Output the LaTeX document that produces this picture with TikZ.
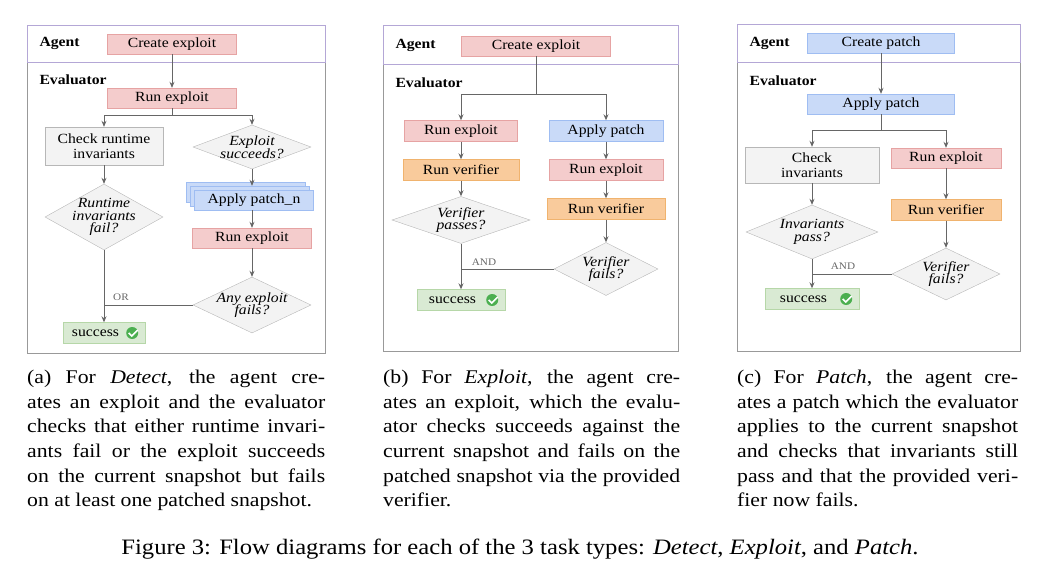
\documentclass[tikz,border=0pt]{standalone}
\usepackage{fontspec}
\setmainfont{Liberation Serif}[FakeStretch=1.12]
\usetikzlibrary{arrows.meta,calc,positioning,shapes.geometric}
\definecolor{redfill}{HTML}{F4CCCC}
\definecolor{reddraw}{HTML}{E6A3A3}
\definecolor{bluefill}{HTML}{C9DAF8}
\definecolor{bluedraw}{HTML}{9FBDF2}
\definecolor{orgfill}{HTML}{F9CB9C}
\definecolor{orgdraw}{HTML}{F0B36E}
\definecolor{grayfill}{HTML}{F3F3F3}
\definecolor{graydraw}{HTML}{B7B7B7}
\definecolor{grnfill}{HTML}{D9EAD3}
\definecolor{grndraw}{HTML}{B6D7A8}
\definecolor{chkgreen}{HTML}{4CAF50}
\definecolor{agentline}{HTML}{B4A7D6}
\definecolor{panelline}{HTML}{999999}
\definecolor{arrowgray}{HTML}{666666}
\newcommand{\dia}{\fontsize{14}{15.5}\selectfont}
\newcommand{\capfont}{\fontsize{19.4}{24.6}\selectfont}

\begin{document}
\begin{tikzpicture}[x=1pt, y=-1pt,
  box/.style={draw, minimum height=20, inner sep=0, align=center, font=\dia},
  redbox/.style={box, fill=redfill, draw=reddraw},
  bluebox/.style={box, fill=bluefill, draw=bluedraw},
  orgbox/.style={box, fill=orgfill, draw=orgdraw},
  graybox/.style={box, fill=grayfill, draw=graydraw},
  okbox/.style={box, fill=grnfill, draw=grndraw},
  dmd/.style={diamond, draw=graydraw, fill=grayfill, inner sep=0},
  dtext/.style={font=\dia\itshape, align=center},
  lbl/.style={font=\dia\bfseries, anchor=west},
  logic/.style={font=\fontsize{10}{11}\selectfont, text=arrowgray},
  arr/.style={-{Stealth[length=6pt, width=5pt]}, arrowgray, thick},
  line/.style={arrowgray, thick},
  chk/.style={circle, fill=chkgreen, minimum size=12, inner sep=0},
  capnode/.style={font=\capfont, text width=298, align=justify, anchor=north west, inner sep=0}
]
\useasboundingbox (0,0) rectangle (1041,573);

% panel (a)
\draw[panelline, thick] (27,62) rectangle (325,353);
\draw[agentline, thick] (27,25) rectangle (325,62);
\node[lbl] (agA) at (36,43) {Agent};
\node[lbl] (evA) at (36,80) {Evaluator};
\node[redbox, minimum width=129] (crA) at (172,44) {Create exploit};
\node[redbox, minimum width=129] (runA) at (172,98) {Run exploit};
\node[graybox, minimum width=118, minimum height=38] (chkA) at (104,146) {Check runtime\\invariants};
\node[dmd, minimum width=118, minimum height=66] (rifA) at (104,217) {};
\node[dtext] at (rifA) {Runtime\\[-3pt]invariants\\[-3pt]fail?};
\node[dmd, minimum width=118, minimum height=44] (exsA) at (252,147) {};
\node[dtext] at (exsA) {Exploit\\[-3pt]succeeds?};
\node[bluebox, minimum width=119] (ap3A) at (246,192) {};
\node[bluebox, minimum width=119] (ap2A) at (250,196) {};
\node[bluebox, minimum width=119] (apA) at (254,200) {Apply patch\_n};
\node[redbox, minimum width=119] (run2A) at (252,238) {Run exploit};
\node[dmd, minimum width=118, minimum height=56] (anyA) at (252,305) {};
\node[dtext] at (anyA) {Any exploit\\[-3pt]fails?};
\node[okbox, minimum width=82, minimum height=21] (okA) at (104,333) {success\hspace{17pt}};
\node[chk] (ckA) at ([xshift=-13pt]okA.east) {};
\draw[white, line width=1.6pt] ([xshift=-3.5pt]ckA.center) -- ++(3,3) -- ++(6,-6);
\draw[arr] (crA) -- (runA);
\draw[arr] (runA.south) -- ++(0,7) -| (chkA.north);
\draw[arr] (runA.south) -- ++(0,7) -| (exsA.north);
\draw[arr] (chkA) -- (rifA);
\draw[arr] (exsA) -- (ap2A.north -| exsA.south);
\draw[arr] (apA.south -| run2A.north) -- (run2A);
\draw[arr] (run2A) -- (anyA);
\draw[arr] (rifA) -- (okA);
\draw[line] (anyA.west) -- (anyA.west -| okA.north);
\node[logic] (orA) at (121,297) {OR};

% panel (b)
\draw[panelline, thick] (383,64) rectangle (678,351);
\draw[agentline, thick] (383,25) rectangle (678,64);
\node[lbl] (agB) at (392,45) {Agent};
\node[lbl] (evB) at (392,83) {Evaluator};
\node[redbox, minimum width=149] (crB) at (536,46) {Create exploit};
\node[redbox, minimum width=113, minimum height=21] (runB) at (461,131) {Run exploit};
\node[orgbox, minimum width=116, minimum height=21] (verB) at (461,170) {Run verifier};
\node[dmd, minimum width=138, minimum height=47] (vpB) at (461,220) {};
\node[dtext] at (vpB) {Verifier\\[-3pt]passes?};
\node[bluebox, minimum width=114, minimum height=21] (apB) at (606,131) {Apply patch};
\node[redbox, minimum width=114, minimum height=21] (run2B) at (606,170) {Run exploit};
\node[orgbox, minimum width=118, minimum height=21] (ver2B) at (606,209) {Run verifier};
\node[dmd, minimum width=104, minimum height=53] (vfB) at (606,269) {};
\node[dtext] at (vfB) {Verifier\\[-3pt]fails?};
\node[okbox, minimum width=88, minimum height=21] (okB) at (461,300) {success\hspace{17pt}};
\node[chk] (ckB) at ([xshift=-13pt]okB.east) {};
\draw[white, line width=1.6pt] ([xshift=-3.5pt]ckB.center) -- ++(3,3) -- ++(6,-6);
\draw[arr] (crB.south) -- ++(0,38) -| (runB.north);
\draw[arr] (crB.south) -- ++(0,38) -| (apB.north);
\draw[arr] (runB) -- (verB);
\draw[arr] (verB) -- (vpB);
\draw[arr] (vpB) -- (okB);
\draw[arr] (apB) -- (run2B);
\draw[arr] (run2B) -- (ver2B);
\draw[arr] (ver2B) -- (vfB);
\draw[line] (vfB.west) -- (vfB.west -| okB.north);
\node[logic] (andB) at (484,262) {AND};

% panel (c)
\draw[panelline, thick] (737,62) rectangle (1020,351);
\draw[agentline, thick] (737,24) rectangle (1020,62);
\node[lbl] (agC) at (746,43) {Agent};
\node[lbl] (evC) at (746,81) {Evaluator};
\node[bluebox, minimum width=147] (crC) at (881,43) {Create patch};
\node[bluebox, minimum width=147] (apC) at (881,104) {Apply patch};
\node[graybox, minimum width=134, minimum height=36] (chkC) at (812,165) {Check\\invariants};
\node[dmd, minimum width=132, minimum height=54] (ipC) at (812,232) {};
\node[dtext] at (ipC) {Invariants\\[-3pt]pass?};
\node[redbox, minimum width=110] (runC) at (946,158) {Run exploit};
\node[orgbox, minimum width=110, minimum height=21] (verC) at (946,210) {Run verifier};
\node[dmd, minimum width=108, minimum height=52] (vfC) at (946,274) {};
\node[dtext] at (vfC) {Verifier\\[-3pt]fails?};
\node[okbox, minimum width=94, minimum height=21] (okC) at (812,299) {success\hspace{17pt}};
\node[chk] (ckC) at ([xshift=-13pt]okC.east) {};
\draw[white, line width=1.6pt] ([xshift=-3.5pt]ckC.center) -- ++(3,3) -- ++(6,-6);
\draw[arr] (crC) -- (apC);
\draw[arr] (apC.south) -- ++(0,16) -| (chkC.north);
\draw[arr] (apC.south) -- ++(0,16) -| (runC.north);
\draw[arr] (chkC) -- (ipC);
\draw[arr] (ipC) -- (okC);
\draw[arr] (runC) -- (verC);
\draw[arr] (verC) -- (vfC);
\draw[line] (vfC.west) -- (vfC.west -| okC.north);
\node[logic] (andC) at (843,266) {AND};

% captions
\node[capnode] (capA) at (27,370) {(a) For \textit{Detect}, the agent cre-\linebreak ates an exploit and the evaluator\linebreak checks that either runtime invari-\linebreak ants fail or the exploit succeeds\linebreak on the current snapshot but fails\linebreak on at least one patched snapshot.};
\node[capnode, text width=297] (capB) at (383,370) {(b) For \textit{Exploit}, the agent cre-\linebreak ates an exploit, which the evalu-\linebreak ator checks succeeds against the\linebreak current snapshot and fails on the\linebreak patched snapshot via the provided\linebreak verifier.};
\node[capnode, text width=281] (capC) at (737,370) {(c) For \textit{Patch}, the agent cre-\linebreak ates a patch which the evaluator\linebreak applies to the current snapshot\linebreak and checks that invariants still\linebreak pass and that the provided veri-\linebreak fier now fails.};
\node[font=\fontsize{22}{26}\selectfont] (fig) at (520,549) {Figure 3: Flow diagrams for each of the 3 task types: \textit{Detect}, \textit{Exploit}, and \textit{Patch}.};
\end{tikzpicture}
\end{document}
